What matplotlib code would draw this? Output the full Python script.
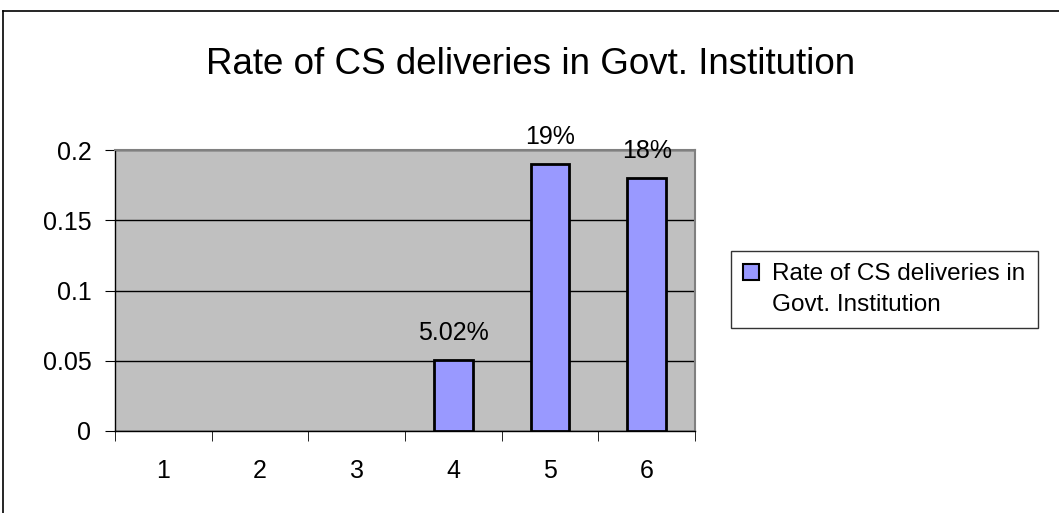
import matplotlib.pyplot as plt
from matplotlib.lines import Line2D
from matplotlib.patches import Rectangle
import numpy as np

categories = ['1', '2', '3', '4', '5', '6']
rates = [0, 0, 0, 0.0502, 0.19, 0.18]
labels = ['', '', '', '5.02%', '19%', '18%']
series_name = ['Rate of CS deliveries in', 'Govt. Institution']
title = 'Rate of CS deliveries in Govt. Institution'

plt.rcParams['font.family'] = ['Liberation Sans', 'DejaVu Sans']

W, H = 1059, 513
fig = plt.figure(figsize=(W / 100, H / 100), dpi=100)
# plot area in pixels: x 115..695, y 150..431
ax = fig.add_axes([115 / W, 1 - 431 / H, 580 / W, 281 / H])
ax.set_facecolor('#c0c0c0')

x = np.arange(len(categories))
bars = ax.bar(x, rates, width=0.4, color='#9999ff', edgecolor='black',
              linewidth=2, zorder=3)
for b, r in zip(bars, rates):
    if r == 0:
        b.set_visible(False)
for i, lab in enumerate(labels):
    if lab:
        ax.annotate(lab, (x[i], rates[i]), xytext=(0, 11), textcoords='offset points',
                    ha='center', va='bottom', fontsize=18, zorder=4)

ax.set_xlim(-0.5, len(categories) - 0.5)
ax.set_ylim(0, 0.2)
ax.set_yticks([0, 0.05, 0.1, 0.15, 0.2])
ax.set_yticklabels(['0', '0.05', '0.1', '0.15', '0.2'], fontsize=18)
ax.yaxis.grid(True, color='black', linewidth=1)
ax.set_axisbelow(True)

# categories labelled at centers, ticks at boundaries
ax.set_xticks(x)
ax.set_xticklabels(categories, fontsize=18)
ax.tick_params(axis='x', length=0, pad=20)
ax.set_xticks(np.arange(-0.5, len(categories)), minor=True)
ax.tick_params(axis='x', which='minor', length=7, direction='out', color='black')
ax.tick_params(axis='y', length=7, direction='out', pad=10)

for s in ['top', 'right']:
    ax.spines[s].set_color('#808080')
    ax.spines[s].set_linewidth(1.5)
for s in ['left', 'bottom']:
    ax.spines[s].set_color('black')
    ax.spines[s].set_linewidth(1)

fig.text(531 / W, 1 - 65 / H, title, ha='center', va='center', fontsize=26.5)

# legend: swatch beside first line only
swatch = Rectangle((0, 0), 1, 1, facecolor='#9999ff', edgecolor='black', linewidth=1.5)
blank = Rectangle((0, 0), 1, 1, facecolor='none', edgecolor='none')
leg = fig.legend([swatch, blank], series_name, loc='upper left',
                 bbox_to_anchor=(731 / W, 1 - 251 / H),
                 fontsize=17.5, frameon=True, fancybox=False,
                 handlelength=0.65, handleheight=0.65, handletextpad=0.55,
                 labelspacing=0.35, borderaxespad=0, borderpad=0.5)
leg.get_frame().set_edgecolor('black')
leg.get_frame().set_linewidth(1)

# outer chart border (top and left visible)
fig.add_artist(Line2D([3 / W, 1.01], [1 - 11 / H, 1 - 11 / H], color='black', linewidth=1.2))
fig.add_artist(Line2D([3 / W, 3 / W], [-0.01, 1 - 11 / H], color='black', linewidth=1.2))

fig.savefig('out.png', dpi=100, facecolor='white')
